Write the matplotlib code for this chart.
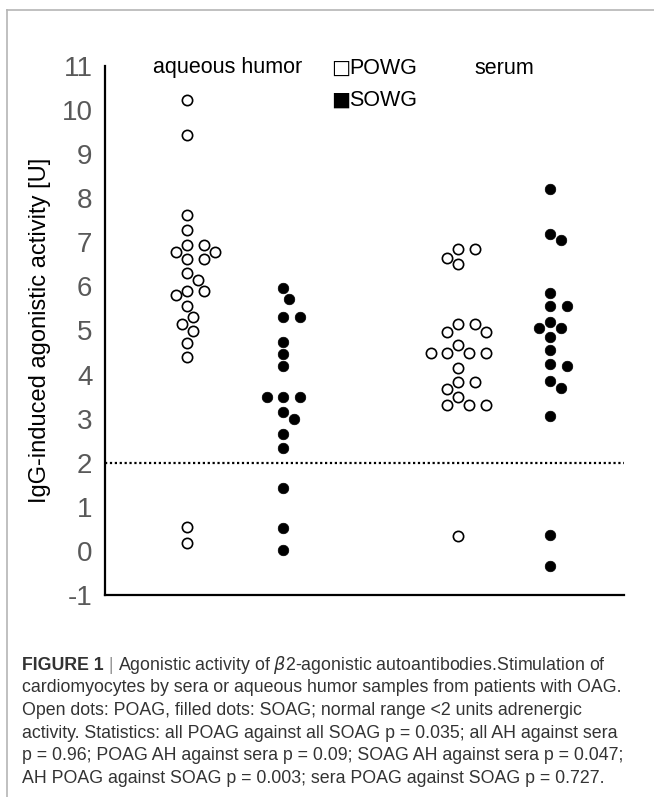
import numpy as np
import matplotlib
matplotlib.use('Agg')
from matplotlib import pyplot as plt
from matplotlib.lines import Line2D

plt.rcParams['font.family'] = ['Liberation Sans', 'DejaVu Sans']
plt.rcParams['axes.unicode_minus'] = False

groups = ['aqueous humor POAG', 'aqueous humor SOAG', 'serum POAG', 'serum SOAG']
ah_poag = [10.24, 9.43, 7.62, 7.29, 6.95, 6.95, 6.79, 6.79, 6.63, 6.63, 6.30, 6.14,
           5.90, 5.90, 5.80, 5.55, 5.31, 5.15, 4.99, 4.72, 4.40, 0.54, 0.19]
ah_soag = [5.96, 5.71, 5.31, 5.31, 4.75, 4.47, 4.20, 3.49, 3.49, 3.49, 3.16, 2.99,
           2.66, 2.33, 1.42, 0.53, 0.02]
serum_poag = [6.85, 6.85, 6.65, 6.50, 5.14, 5.14, 4.97, 4.97, 4.66, 4.48, 4.48, 4.48,
              4.48, 4.14, 3.83, 3.83, 3.67, 3.49, 3.31, 3.31, 3.31, 0.34]
serum_soag = [8.20, 7.20, 7.05, 5.85, 5.55, 5.55, 5.20, 5.05, 5.05, 4.85, 4.55, 4.25,
              4.20, 3.85, 3.70, 3.05, 0.35, -0.35]
filled = [False, True, False, True]
normal_limit = 2

yticks = list(range(-1, 12))
caption = [
    "cardiomyocytes by sera or aqueous humor samples from patients with OAG.",
    "Open dots: POAG, filled dots: SOAG; normal range <2 units adrenergic",
    "activity. Statistics: all POAG against all SOAG p = 0.035; all AH against sera",
    "p = 0.96; POAG AH against sera p = 0.09; SOAG AH against sera p = 0.047;",
    "AH POAG against SOAG p = 0.003; sera POAG against SOAG p = 0.727.",
]

W, H = 654, 797
fig = plt.figure(figsize=(W / 100, H / 100), dpi=100)

# axes in pixel terms: left 105, right 624, top (11) 66, bottom (-1) 595
ax = fig.add_axes([105 / W, 1 - 595 / H, 519 / W, 529 / H])
ax.set_xlim(0, 519)
ax.set_ylim(-1, 11)
ypx = 529 / 12  # pixels per unit


def swarm(vals, diam=11.5, step=5.5):
    placed = []
    offs = np.zeros(len(vals))
    for i in np.argsort(-np.asarray(vals), kind='stable'):
        y = vals[i] * ypx
        k = 0
        while True:
            cands = [0.0] if k == 0 else [k * step, -k * step]
            ok = None
            for c in cands:
                if all((c - px) ** 2 + (y - py) ** 2 >= diam ** 2 for px, py in placed):
                    ok = c
                    break
            if ok is not None:
                break
            k += 1
        placed.append((ok, y))
        offs[i] = ok
    return offs


centers = [82, 178, 353, 445]
for vals, cx, f in zip([ah_poag, ah_soag, serum_poag, serum_soag], centers, filled):
    xs = cx + swarm(vals)
    if f:
        ax.plot(xs, vals, 'o', ms=7.6, mfc='black', mec='black', mew=0.5, ls='none')
    else:
        ax.plot(xs, vals, 'o', ms=7.4, mfc='white', mec='black', mew=1.2, ls='none')

ax.axhline(normal_limit, color='black', lw=1.6, ls=(0, (1, 1.2)))

for s in ['top', 'right']:
    ax.spines[s].set_visible(False)
ax.spines['left'].set_linewidth(1.6)
ax.spines['bottom'].set_linewidth(1.6)
ax.set_xticks([])
ax.set_yticks(yticks)
ax.tick_params(axis='y', length=0, pad=9, labelsize=20, labelcolor='#595959')
ax.set_ylabel('IgG-induced agonistic activity [U]', fontsize=17, color='black')
ax.yaxis.set_label_coords(-0.105, 0.5)

def ftext(x, y, s, **kw):
    return fig.text(x / W, 1 - y / H, s, **kw)

ftext(228, 68, 'aqueous humor', fontsize=15.5, ha='center', va='center')
ftext(504, 68, 'serum', fontsize=15.5, ha='center', va='center')
ftext(331, 68, '\u25a1', fontsize=14.5, ha='left', va='center', family='DejaVu Sans')
ftext(331, 100, '\u25a0', fontsize=14.5, ha='left', va='center', family='DejaVu Sans')
ftext(349, 68, 'POWG', fontsize=15.5, ha='left', va='center')
ftext(349, 100, 'SOWG', fontsize=15.5, ha='left', va='center')

# frame around the figure panel
fig.add_artist(Line2D([7 / W, 1], [1 - 10 / H, 1 - 10 / H], color='#b5b5b5', lw=1.2))
fig.add_artist(Line2D([7 / W, 7 / W], [1 - 10 / H, 0], color='#b5b5b5', lw=1.2))

cap_color = '#333333'
fs = 12.8
t = ftext(22, 665, 'FIGURE 1', fontsize=fs, fontweight='bold', color=cap_color, va='center')
fig.canvas.draw()
renderer = fig.canvas.get_renderer()
bb = t.get_window_extent(renderer)
sep = fig.text(bb.x1 / W, 1 - 665 / H, ' | ', fontsize=fs, color='#999999', va='center')
bb2 = sep.get_window_extent(renderer)
fig.text(bb2.x1 / W, 1 - 665 / H,
         'Agonistic activity of $\\beta$2-agonistic autoantibodies.Stimulation of',
         fontsize=fs, color=cap_color, va='center')
for i, line in enumerate(caption):
    ftext(22, 665 + 22.7 * (i + 1), line, fontsize=fs, color=cap_color, va='center')

plt.savefig('out.png', dpi=100)
